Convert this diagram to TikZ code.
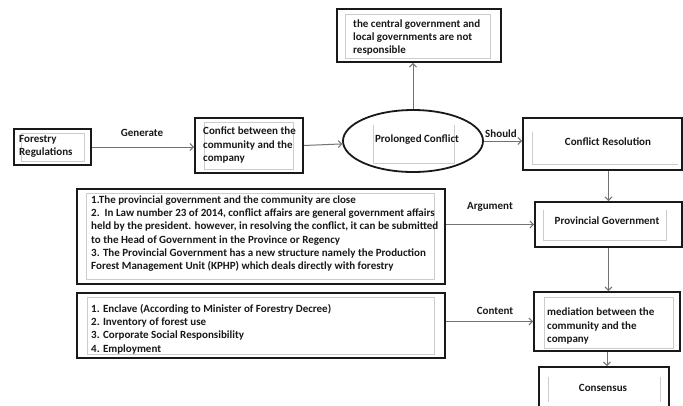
\documentclass[tikz,border=0pt]{standalone}
\usepackage{fontspec}
\setmainfont{Carlito}
\usetikzlibrary{arrows.meta,shapes.geometric,calc}
\begin{document}
\begin{tikzpicture}[x=1pt,y=-1pt,
  every node/.style={font=\fontsize{11}{13.2}\selectfont\bfseries},
  frame/.style={draw=black!90, line width=1.8pt, inner sep=0pt, fill=white},
  ghost/.style={draw=black!20, line width=0.9pt},
  txt/.style={align=left, inner sep=0pt, anchor=west, text=black!90},
  lbl/.style={inner sep=0pt, text=black!90},
  conn/.style={draw=black!55, line width=1pt, -{Straight Barb[length=3.5pt,width=7pt]}}]
\fill[white] (0,0) rectangle (683,405);
\useasboundingbox (0,0) rectangle (683,405);

% frames
\node[frame, minimum width=77pt, minimum height=36pt] (forest) at (52.5,147) {};
\node[frame, minimum width=108pt, minimum height=55pt] (conf) at (249,145.5) {};
\node[frame, minimum width=164pt, minimum height=53pt] (top) at (419,35.5) {};
\node[frame, ellipse, minimum width=140pt, minimum height=62pt] (ell) at (413,141) {};
\node[frame, minimum width=159pt, minimum height=52pt] (cr) at (602.5,144) {};
\node[frame, minimum width=368pt, minimum height=95pt] (arg) at (261,236.5) {};
\node[frame, minimum width=147pt, minimum height=45pt] (pg) at (608.5,224.5) {};
\node[frame, minimum width=368pt, minimum height=65pt] (cont) at (261,325.5) {};
\node[frame, minimum width=146pt, minimum height=59pt] (med) at (607,321.5) {};
\node[frame, minimum width=130pt, minimum height=40pt] (cons) at (604,387) {};

% faint inner frames
\draw[ghost] (21,133) rectangle (84,161);
\draw[ghost] (204,122) rectangle (293,169);
\draw[ghost] (345,14) rectangle (490,58);
\draw[ghost] (373,125) -- (373,163) -- (454,163) -- (454,125);
\draw[ghost] (532,132) -- (532,164) -- (678,164);
\draw[ghost] (543,210) -- (543,240) -- (666,240) -- (666,210);
\draw[ghost] (86,193) rectangle (434,279);
\draw[ghost] (87,297) rectangle (434,354);
\draw[ghost] (544,297) rectangle (673,348);
\draw[ghost] (548,377) -- (548,402);
\draw[ghost] (660,377) -- (660,402);

% texts
\node[txt] (forestT) at (19,146) {Forestry\\Regulations};
\node[txt] (confT) at (203,145) {Confict between the\\community and the\\company};
\node[txt] (topT) at (353,37.5) {the central government and\\local governments are not\\responsible};
\node[lbl] (ellT) at (417,140) {Prolonged Conflict};
\node[lbl] (crT) at (608,142) {Conflict Resolution};
\node[txt] (argT) at (91,233.5) {1.The provincial government and the community are close\\
2.\ \ In Law number 23 of 2014, conflict affairs are general government affairs\\
held by the president. however, in resolving the conflict, it can be submitted\\
to the Head of Government in the Province or Regency\\
3. The Provincial Government has a new structure namely the Production\\
Forest Management Unit (KPHP) which deals directly with forestry};
\node[lbl] (pgT) at (607,221) {Provincial Government};
\node[txt] (contT) at (91,329) {1. Enclave (According to Minister of Forestry Decree)\\
2. Inventory of forest use\\
3. Corporate Social Responsibility\\
4. Employment};
\node[txt] (medT) at (547,326) {mediation between the\\community and the\\company};
\node[lbl] (consT) at (603,388) {Consensus};

% connectors
\draw[conn] (forest.east) -- (forest.east -| conf.west);
\draw[conn] (conf.east) -- (ell);
\draw[conn] (ell.north) -- (ell.north |- top.south);
\draw[conn] (ell.east) -- (ell.east -| cr.west);
\draw[conn] (pg.north |- cr.south) -- (pg.north);
\draw[conn] (arg.east |- pg.west) -- (pg.west);
\draw[conn] (pg.south) -- (pg.south |- med.north);
\draw[conn] (cont.east |- med.west) -- (med.west);
\draw[conn] (med.south) -- (med.south |- cons.north);

% labels
\node[lbl] (lgen) at (142,133) {Generate};
\node[lbl] (lsh) at (501,134) {Should};
\node[lbl] (larg) at (490,207) {Argument};
\node[lbl] (lcont) at (495,311) {Content};
\end{tikzpicture}
\end{document}
